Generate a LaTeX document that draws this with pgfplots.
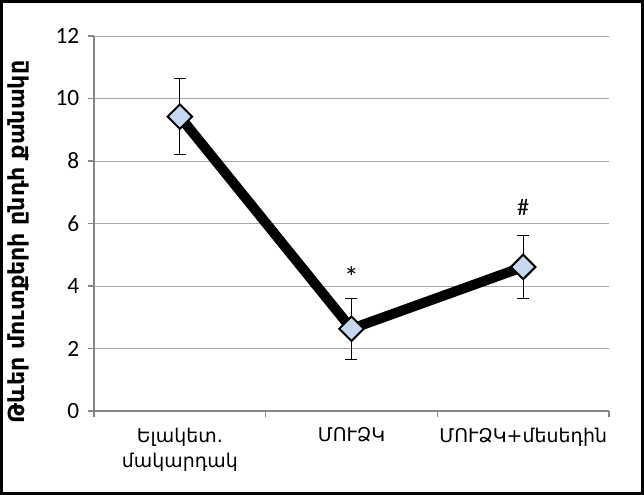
\documentclass[border=0pt]{standalone}
\usepackage{fontspec}
\usepackage{pgfplots}
\pgfplotsset{compat=1.18}
\setmainfont{Carlito}
\newfontfamily\arm{DejaVu Sans}
\definecolor{axgray}{HTML}{868686}
\definecolor{gridgray}{HTML}{A6A6A6}
\definecolor{mfill}{HTML}{C6D7EF}
\begin{document}
\begin{tikzpicture}
\begin{axis}[
  at={(0,0)}, anchor=south west,
  scale only axis,
  width=386.25pt, height=281.25pt,
  xmin=-0.5, xmax=2.5, ymin=0, ymax=12,
  axis lines*=left,
  axis line style={axgray, line width=0.8pt},
  xtick={-0.5,0.5,1.5,2.5}, xticklabels={},
  extra x ticks={0,1,2},
  extra x tick labels={{Ելակետ.\\մակարդակ},{ՄՈՒՁԿ},{ՄՈՒՁԿ+մեսեդին}},
  extra x tick style={major tick length=0pt, grid=none,
     xticklabel style={font=\arm\fontsize{14.2}{19}\selectfont, align=center, anchor=north, yshift=-9pt}},
  ytick={0,2,...,12},
  ymajorgrids,
  grid style={gridgray, line width=0.7pt},
  tick align=outside,
  major tick length=4.5pt,
  tick style={axgray, line width=0.8pt},
  yticklabel style={font=\fontsize{17.5}{19}\selectfont, xshift=-3pt},
  /pgf/number format/assume math mode=true,
  ylabel={\arm\bfseries Թևեր մուտքերի ընդհ քանակը},
  ylabel style={font=\fontsize{16.6}{18}\selectfont, at={(axis description cs:-0.146,0.45)}, anchor=center},
  clip=false,
]
\addplot[draw=none, mark=none, forget plot,
  error bars/.cd, y dir=both, y explicit,
  error bar style={black, line width=0.75pt},
  error mark options={rotate=90, mark size=4.5pt, black, line width=0.75pt}]
  coordinates {(0,9.42) +- (0,1.22) (1,2.63) +- (0,0.97) (2,4.61) +- (0,1.02)};
\addplot[black, line width=7.5pt, mark=square*,
  mark options={rotate=45, mark size=6.5pt, fill=mfill, draw=black, line width=1.5pt}]
  coordinates {(0,9.42) (1,2.63) (2,4.61)};
\node[font=\fontsize{22}{24}\selectfont] at (axis cs:1,4.3) {*};
\node[font=\fontsize{18}{20}\selectfont] at (axis cs:2,6.5) {\#};
\end{axis}
\draw[black, line width=2.25pt] (-69.375pt,-61.875pt) rectangle (411.375pt,307.125pt);
\end{tikzpicture}
\end{document}
